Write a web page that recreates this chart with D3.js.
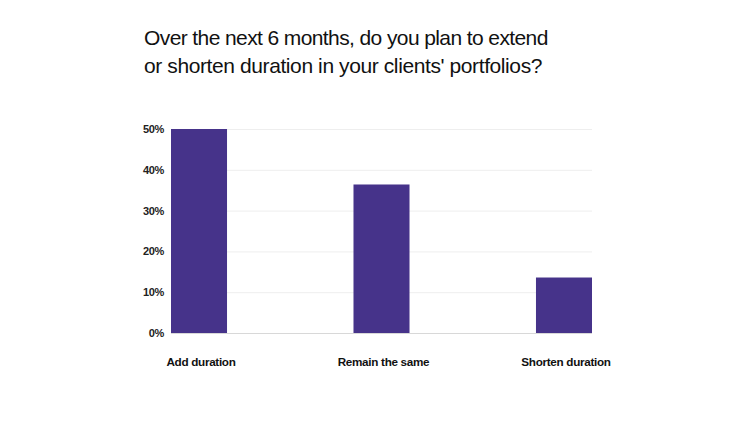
<!DOCTYPE html>
<html><head><meta charset="utf-8">
<script src="https://cdn.jsdelivr.net/npm/d3@7"></script>
<style>body{margin:0;background:#fff}svg{display:block}</style>
</head><body>
<svg id="c" width="750" height="422"></svg>
<script>
const titleLines = ["Over the next 6 months, do you plan to extend", "or shorten duration in your clients' portfolios?"];
const categories = ["Add duration", "Remain the same", "Shorten duration"];
const values = [50, 36.4, 13.6];
const yTicks = [0, 10, 20, 30, 40, 50];

const svg = d3.select("#c");
const m = {left: 171, right: 158, top: 129, bottom: 89};
const W = 750, H = 422;

svg.append("g").selectAll("text").data(titleLines).join("text")
  .attr("x", 144).attr("y", (d, i) => 45 + i * 28)
  .attr("font-family", "Liberation Sans, Arial, sans-serif")
  .attr("font-size", 21).attr("fill", "#111").attr("letter-spacing", (d, i) => i === 0 ? -0.6 : -0.4)
  .text(d => d);

const x = d3.scaleBand().domain(categories).range([m.left, W - m.right]).paddingInner(0.693).paddingOuter(0);
const y = d3.scaleLinear().domain([0, 50]).range([H - m.bottom, m.top]);

const yAxis = svg.append("g").attr("transform", `translate(${m.left},0)`)
  .call(d3.axisLeft(y).tickValues(yTicks).tickFormat(d => d + "%").tickSize(-(W - m.right - m.left)).tickPadding(7));
yAxis.select(".domain").remove();
yAxis.selectAll(".tick line").attr("stroke", d => d === 0 ? "#d8d8d8" : "#eeeeee").attr("stroke-width", 1);
yAxis.selectAll(".tick text").attr("font-family", "Liberation Sans, Arial, sans-serif")
  .attr("font-size", 11).attr("font-weight", "bold").attr("fill", "#222").attr("letter-spacing", -0.3);

svg.append("g").selectAll("rect").data(values).join("rect")
  .attr("x", (d, i) => x(categories[i]))
  .attr("y", d => y(d))
  .attr("width", x.bandwidth())
  .attr("height", d => y(0) - y(d))
  .attr("fill", "#46338a");

svg.append("g").selectAll("text").data(categories).join("text")
  .attr("x", d => x(d) + x.bandwidth() / 2 + 2)
  .attr("y", 366)
  .attr("text-anchor", "middle")
  .attr("font-family", "Liberation Sans, Arial, sans-serif")
  .attr("font-size", 11.7).attr("font-weight", "bold").attr("fill", "#111").attr("letter-spacing", -0.3)
  .text(d => d);
</script>
</body></html>
